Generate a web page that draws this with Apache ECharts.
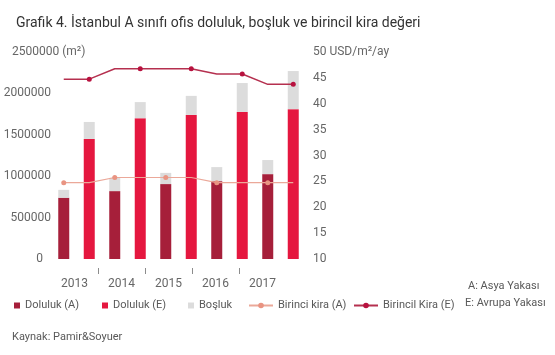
<!DOCTYPE html>
<html>
<head>
<meta charset="utf-8">
<script src="https://cdn.jsdelivr.net/npm/echarts@6/dist/echarts.min.js"></script>
<style>
  html, body { margin: 0; padding: 0; background: #fff; }
  #chart { width: 555px; height: 355px; }
</style>
</head>
<body>
<div id="chart"></div>
<script>
// verileri
const years = ['2013', '2014', '2015', '2016', '2017'];
const categories = ['2013 A', '2013 E', '2014 A', '2014 E', '2015 A', '2015 E', '2016 A', '2016 E', '2017 A', '2017 E'];
const dolulukA = [740000, 820000, 905000, 940000, 1025000];
const dolulukE = [1450000, 1700000, 1740000, 1775000, 1810000];
const boslukA = [95000, 160000, 135000, 170000, 170000];
const boslukE = [205000, 195000, 230000, 350000, 460000];
const kiraA = [24.75, 25.75, 25.75, 24.75, 24.75];
const kiraE = [44.75, 46.75, 46.75, 45.75, 43.75];
const leftTicks = [0, 2500000, 500000];
const rightTicks = [10, 50, 5];

const FONT = "Roboto, sans-serif";

// 10 kategoriye yay: çift indeks A, tek indeks E
const barA = [], barE = [], bosluk = [], lineA = [], lineE = [];
years.forEach((y, i) => {
  barA.push(dolulukA[i], '-');
  barE.push('-', dolulukE[i]);
  bosluk.push(boslukA[i], boslukE[i]);
  lineA.push({ value: kiraA[i] }, { value: kiraA[i], symbol: 'none' });
  lineE.push({ value: kiraE[i], symbol: 'none' }, { value: kiraE[i] });
});

const chart = echarts.init(document.getElementById('chart'));

const legendBase = {
  top: 295,
  textStyle: { color: '#595959', fontSize: 11, fontFamily: FONT },
  selectedMode: false
};

chart.setOption({
  animation: false,
  textStyle: { fontFamily: FONT },
  title: {
    text: 'Grafik 4. İstanbul A sınıfı ofis doluluk, boşluk ve birincil kira değeri',
    left: 11,
    top: 11,
    textStyle: { color: '#333', fontSize: 14, fontWeight: 'normal', fontFamily: FONT }
  },
  grid: [
    { left: 51, width: 255, top: 52, height: 207 },
    { left: 51, width: 235, top: 52, height: 216 }
  ],
  legend: [
    Object.assign({}, legendBase, { left: 9, data: ['Doluluk (A)'], icon: 'rect', itemWidth: 6, itemHeight: 6 }),
    Object.assign({}, legendBase, { left: 97, data: ['Doluluk (E)'], icon: 'rect', itemWidth: 6, itemHeight: 6 }),
    Object.assign({}, legendBase, { left: 183, data: ['Boşluk'], icon: 'rect', itemWidth: 6, itemHeight: 6 }),
    Object.assign({}, legendBase, { left: 243, data: ['Birinci kira (A)'], itemWidth: 24, itemHeight: 7 }),
    Object.assign({}, legendBase, { left: 348, data: ['Birincil Kira (E)'], itemWidth: 24, itemHeight: 7 })
  ],
  xAxis: [
    {
      type: 'category',
      gridIndex: 0,
      data: categories,
      axisLine: { show: false },
      axisTick: { show: false },
      axisLabel: { show: false }
    },
    {
      type: 'value',
      gridIndex: 1,
      min: 0,
      max: 5,
      axisLine: { show: false },
      splitLine: { show: false },
      axisTick: { show: true, length: 6, customValues: [1, 2, 3, 4], lineStyle: { color: '#8c8c8c' } },
      axisLabel: {
        customValues: [0.5, 1.5, 2.5, 3.5, 4.5],
        margin: 10,
        color: '#666',
        fontSize: 12,
        fontFamily: FONT,
        formatter: v => years[Math.floor(v)]
      }
    }
  ],
  yAxis: [
    {
      type: 'value',
      gridIndex: 0,
      min: leftTicks[0],
      max: leftTicks[1],
      interval: leftTicks[2],
      axisLine: { show: false },
      axisTick: { show: false },
      splitLine: { show: false },
      axisLabel: {
        margin: 0,
        color: '#666',
        fontSize: 12,
        fontFamily: FONT,
        formatter: v => (v === leftTicks[1] ? '' : v === 0 ? '{z|0}' : String(v)),
        rich: { z: { padding: [0, 8, 0, 0], color: '#666', fontSize: 12, fontFamily: FONT } }
      }
    },
    {
      type: 'value',
      gridIndex: 0,
      position: 'right',
      min: rightTicks[0],
      max: rightTicks[1],
      interval: rightTicks[2],
      axisLine: { show: false },
      axisTick: { show: false },
      splitLine: { show: false },
      axisLabel: {
        margin: 7,
        color: '#666',
        fontSize: 12,
        fontFamily: FONT,
        formatter: v => (v === rightTicks[1] ? '50 USD/m²/ay' : String(v))
      }
    },
    { type: 'value', gridIndex: 1, show: false }
  ],
  series: [
    {
      name: 'Doluluk (A)',
      type: 'bar',
      stack: 'alan',
      barWidth: 11,
      data: barA,
      itemStyle: { color: '#a61f3a' }
    },
    {
      name: 'Doluluk (E)',
      type: 'bar',
      stack: 'alan',
      barWidth: 11,
      data: barE,
      itemStyle: { color: '#e5173f' }
    },
    {
      name: 'Boşluk',
      type: 'bar',
      stack: 'alan',
      barWidth: 11,
      data: bosluk,
      itemStyle: { color: '#dcdcdc' }
    },
    {
      name: 'Birinci kira (A)',
      type: 'line',
      yAxisIndex: 1,
      data: lineA,
      symbol: 'circle',
      symbolSize: 5,
      showAllSymbol: true,
      lineStyle: { color: '#eba899', width: 1.2 },
      itemStyle: { color: '#e99482' }
    },
    {
      name: 'Birincil Kira (E)',
      type: 'line',
      yAxisIndex: 1,
      data: lineE,
      symbol: 'circle',
      symbolSize: 5,
      showAllSymbol: true,
      lineStyle: { color: '#b5304f', width: 1.5 },
      itemStyle: { color: '#b8123f' }
    }
  ],
  graphic: [
    { type: 'text', left: 12, top: 46, style: { text: '2500000 (m²)', fill: '#666', font: '12px ' + FONT } },
    { type: 'text', left: 468, top: 281, style: { text: 'A: Asya Yakası', fill: '#595959', font: '11px ' + FONT } },
    { type: 'text', left: 465, top: 298, style: { text: 'E: Avrupa Yakası', fill: '#595959', font: '11px ' + FONT } },
    { type: 'text', left: 12, top: 332, style: { text: 'Kaynak: Pamir&Soyuer', fill: '#595959', font: '11px ' + FONT } }
  ]
});
</script>
</body>
</html>
